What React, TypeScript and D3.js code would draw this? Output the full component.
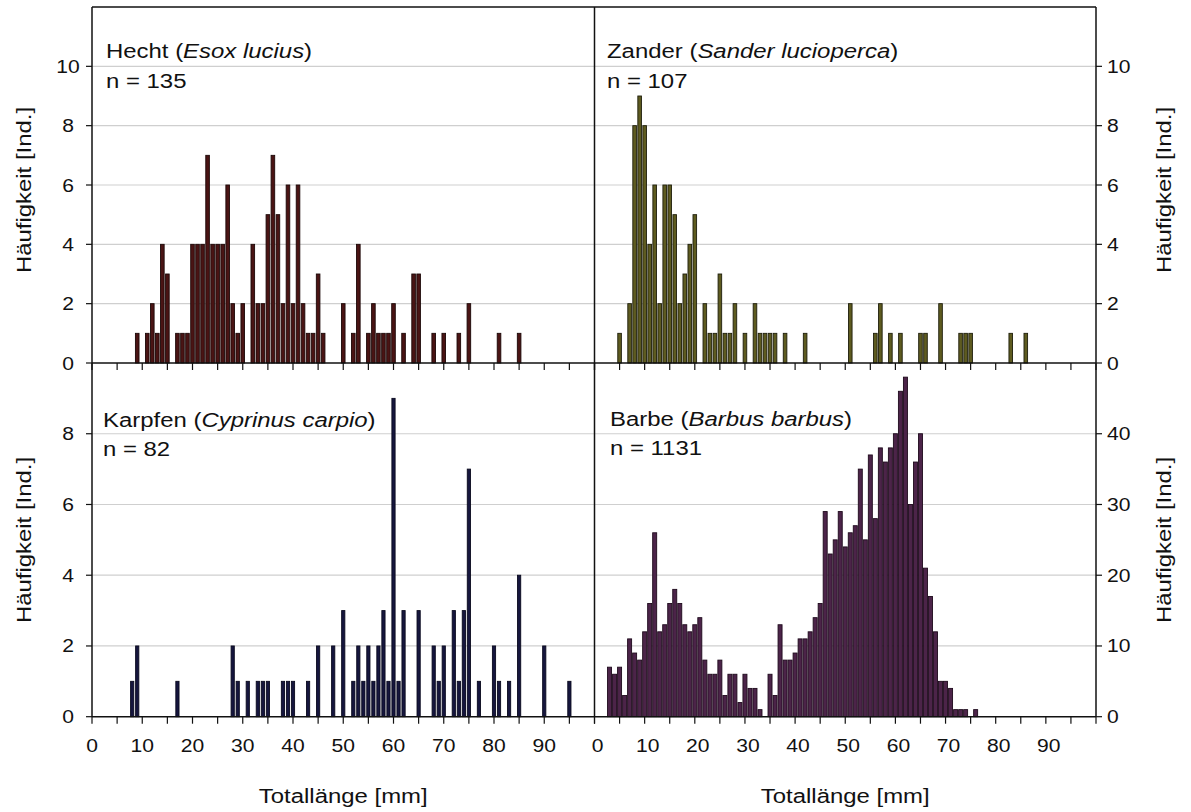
import React from 'react';
import * as d3 from 'd3';

// [length mm, count]
const hechtData: [number, number][] = [
  [9, 1], [11, 1], [12, 2], [13, 1], [14, 4], [15, 3], [17, 1], [18, 1], [19, 1], [20, 4], [21, 4], [22, 4],
  [23, 7], [24, 4], [25, 4], [26, 4], [27, 6], [28, 2], [29, 1], [30, 2], [32, 4], [33, 2], [34, 2], [35, 5],
  [36, 7], [37, 5], [38, 2], [39, 6], [40, 2], [41, 6], [42, 2], [43, 1], [44, 1], [45, 3], [46, 1],
  [50, 2], [52, 1], [53, 4], [55, 1], [56, 2], [57, 1], [58, 1], [59, 1], [60, 2], [62, 1], [64, 3], [65, 3],
  [68, 1], [70, 1], [73, 1], [75, 2], [81, 1], [85, 1],
];

const zanderData: [number, number][] = [
  [5, 1], [7, 2], [8, 8], [9, 9], [10, 8], [11, 4], [12, 6], [13, 2], [14, 6], [15, 6], [16, 5], [17, 2],
  [18, 3], [19, 4], [20, 5], [22, 2], [23, 1], [24, 1], [25, 3], [26, 1], [27, 1], [28, 2], [30, 1], [32, 2],
  [33, 1], [34, 1], [35, 1], [36, 1], [38, 1], [42, 1], [51, 2], [56, 1], [57, 2], [59, 1], [61, 1], [65, 1],
  [66, 1], [69, 2], [73, 1], [74, 1], [75, 1], [83, 1], [86, 1],
];

const karpfenData: [number, number][] = [
  [8, 1], [9, 2], [17, 1], [28, 2], [29, 1], [31, 1], [33, 1], [34, 1], [35, 1], [38, 1], [39, 1], [40, 1],
  [43, 1], [45, 2], [48, 2], [50, 3], [52, 1], [53, 2], [54, 1], [55, 2], [56, 1], [57, 2], [58, 3], [59, 1],
  [60, 9], [61, 1], [62, 3], [65, 3], [68, 2], [69, 1], [70, 2], [72, 3], [73, 1], [74, 3], [75, 7], [77, 1],
  [80, 2], [81, 1], [83, 1], [85, 4], [90, 2], [95, 1],
];

const barbeData: [number, number][] = [
  [3, 7], [4, 6], [5, 7], [6, 3], [7, 11], [8, 9], [9, 8], [10, 12], [11, 16], [12, 26], [13, 12], [14, 13],
  [15, 16], [16, 18], [17, 16], [18, 13], [19, 12], [20, 13], [21, 14], [22, 8], [23, 6], [24, 6], [25, 8],
  [26, 3], [27, 6], [28, 6], [29, 2], [30, 6], [31, 4], [32, 4], [33, 1], [35, 6], [36, 3], [37, 13], [38, 8],
  [39, 8], [40, 9], [41, 11], [42, 11], [43, 12], [44, 14], [45, 16], [46, 29], [47, 23], [48, 25], [49, 29],
  [50, 24], [51, 26], [52, 27], [53, 35], [54, 25], [55, 37], [56, 28], [57, 38], [58, 36], [59, 38], [60, 40],
  [61, 46], [62, 48], [63, 30], [64, 36], [65, 40], [66, 21], [67, 17], [68, 12], [69, 5], [70, 5], [71, 4],
  [72, 1], [73, 1], [74, 1], [76, 1],
];

const xTickLabels = [0, 10, 20, 30, 40, 50, 60, 70, 80, 90];
const xMinorTicks = d3.range(0, 101, 5);
const topYTicks = [0, 2, 4, 6, 8, 10];
const blYTicks = [0, 2, 4, 6, 8];
const brYTicks = [0, 10, 20, 30, 40];

const X0 = 92, XM = 594.5, X1 = 1096;
const YT = 7, YM = 363, YB = 716.7;
const FONT = '"Liberation Sans", Arial, sans-serif';
const SX = 1.14;

type Pt = [number, number];

function STxt(props: { x: number; y: number; size: number; anchor?: string; rotate?: boolean; children: React.ReactNode }) {
  const { x, y, size, anchor = 'start', rotate = false, children } = props;
  const tf = `translate(${x},${y})${rotate ? ' rotate(-90)' : ''} scale(${SX},1)`;
  return (
    <g transform={tf}>
      <text x={0} y={0} fontSize={size} fontFamily={FONT} textAnchor={anchor} fill="#111">
        {children}
      </text>
    </g>
  );
}

function Panel(props: {
  data: Pt[];
  x: d3.ScaleLinear<number, number>;
  y: d3.ScaleLinear<number, number>;
  grid: number[];
  fill: string;
  stroke: string;
  bw: number;
}) {
  const { data, x, y, grid, fill, stroke, bw } = props;
  const [xa, xb] = x.range();
  return (
    <g>
      {grid.filter((g) => g > 0).map((g) => (
        <line key={'g' + g} x1={xa} x2={xb} y1={y(g)} y2={y(g)} stroke="#cfcfcf" strokeWidth={1.2} />
      ))}
      {data.map(([v, c]) => (
        <rect
          key={v}
          x={x(v) - bw / 2}
          y={y(c)}
          width={bw}
          height={y(0) - y(c)}
          fill={fill}
          stroke={stroke}
          strokeWidth={0.9}
        />
      ))}
    </g>
  );
}

export default function App() {
  const xL = d3.scaleLinear().domain([0, 100]).range([X0, XM]);
  const xR = d3.scaleLinear().domain([0, 100]).range([XM, X1]);
  const yTop = d3.scaleLinear().domain([0, 12]).range([YM, YT]);
  const yBL = d3.scaleLinear().domain([0, 10]).range([YB, YM]);
  const yBR = d3.scaleLinear().domain([0, 50]).range([YB, YM]);

  const tickSize = 18.5;
  const labelSize = 21;

  return (
    <svg
      width={1191}
      height={812}
      style={{ position: 'absolute', left: 0, top: 0, background: '#fff' }}
    >
      <rect x={0} y={0} width={1191} height={812} fill="#fff" />

      <Panel data={hechtData} x={xL} y={yTop} grid={topYTicks} fill="#4a1414" stroke="#1c0808" bw={3.6} />
      <Panel data={zanderData} x={xR} y={yTop} grid={topYTicks} fill="#5e5b20" stroke="#1e1e0c" bw={3.6} />
      <Panel data={karpfenData} x={xL} y={yBL} grid={blYTicks} fill="#16163e" stroke="#0a0a1e" bw={3.2} />
      <Panel data={barbeData} x={xR} y={yBR} grid={brYTicks} fill="#4c2449" stroke="#1e0a1c" bw={4.0} />

      {/* frame */}
      <g stroke="#111" strokeWidth={1.5} fill="none">
        <line x1={X0} x2={X1} y1={YT} y2={YT} />
        <line x1={X0} x2={X0} y1={YT} y2={YB} />
        <line x1={X1} x2={X1} y1={YT} y2={YB} />
        <line x1={XM} x2={XM} y1={YT} y2={YB} />
        <line x1={X0} x2={X1} y1={YM} y2={YM} />
        <line x1={X0} x2={X1} y1={YB} y2={YB} />
      </g>

      {/* x ticks */}
      <g stroke="#111" strokeWidth={1.2}>
        {[xL, xR].map((sc, i) =>
          xMinorTicks.map((t) => (
            <g key={`xt${i}-${t}`}>
              <line x1={sc(t)} x2={sc(t)} y1={YM} y2={YM + 7} />
              <line x1={sc(t)} x2={sc(t)} y1={YB} y2={YB + 7} />
            </g>
          ))
        )}
        {topYTicks.map((t) => (
          <g key={`yt${t}`}>
            <line x1={X0 - 6} x2={X0} y1={yTop(t)} y2={yTop(t)} />
            <line x1={X1} x2={X1 + 6} y1={yTop(t)} y2={yTop(t)} />
          </g>
        ))}
        {blYTicks.map((t) => (
          <line key={`ybl${t}`} x1={X0 - 6} x2={X0} y1={yBL(t)} y2={yBL(t)} />
        ))}
        {brYTicks.map((t) => (
          <line key={`ybr${t}`} x1={X1} x2={X1 + 6} y1={yBR(t)} y2={yBR(t)} />
        ))}
      </g>

      {/* tick labels */}
      {xTickLabels.map((t) => (
        <g key={`xl${t}`}>
          <STxt x={xL(t)} y={752} size={tickSize} anchor="middle">{t}</STxt>
          <STxt x={xR(t) + 3} y={752} size={tickSize} anchor="middle">{t}</STxt>
        </g>
      ))}
      {topYTicks.map((t) => (
        <g key={`ytl${t}`}>
          <STxt x={68} y={yTop(t) + 6.5} size={tickSize} anchor="middle">{t}</STxt>
          <STxt x={1107} y={yTop(t) + 6.5} size={tickSize}>{t}</STxt>
        </g>
      ))}
      {blYTicks.map((t) => (
        <STxt key={`ybll${t}`} x={68} y={yBL(t) + 6.5} size={tickSize} anchor="middle">{t}</STxt>
      ))}
      {brYTicks.map((t) => (
        <STxt key={`ybrl${t}`} x={1107} y={yBR(t) + 6.5} size={tickSize}>{t}</STxt>
      ))}

      {/* axis titles */}
      <STxt x={31} y={190} size={labelSize} anchor="middle" rotate>Häufigkeit [Ind.]</STxt>
      <STxt x={31} y={540} size={labelSize} anchor="middle" rotate>Häufigkeit [Ind.]</STxt>
      <STxt x={1171} y={190} size={labelSize} anchor="middle" rotate>Häufigkeit [Ind.]</STxt>
      <STxt x={1171} y={540} size={labelSize} anchor="middle" rotate>Häufigkeit [Ind.]</STxt>
      <STxt x={(X0 + XM) / 2} y={803} size={labelSize} anchor="middle">Totallänge [mm]</STxt>
      <STxt x={(XM + X1) / 2} y={803} size={labelSize} anchor="middle">Totallänge [mm]</STxt>

      {/* panel labels */}
      <STxt x={106} y={58} size={labelSize}>
        Hecht (<tspan fontStyle="italic">Esox lucius</tspan>)
      </STxt>
      <STxt x={106} y={88} size={labelSize}>n = 135</STxt>
      <STxt x={607} y={58} size={labelSize}>
        Zander (<tspan fontStyle="italic">Sander lucioperca</tspan>)
      </STxt>
      <STxt x={607} y={88} size={labelSize}>n = 107</STxt>
      <STxt x={103} y={427} size={labelSize}>
        Karpfen (<tspan fontStyle="italic">Cyprinus carpio</tspan>)
      </STxt>
      <STxt x={103} y={456} size={labelSize}>n = 82</STxt>
      <STxt x={610} y={426} size={labelSize}>
        Barbe (<tspan fontStyle="italic">Barbus barbus</tspan>)
      </STxt>
      <STxt x={610} y={455} size={labelSize}>n = 1131</STxt>
    </svg>
  );
}
